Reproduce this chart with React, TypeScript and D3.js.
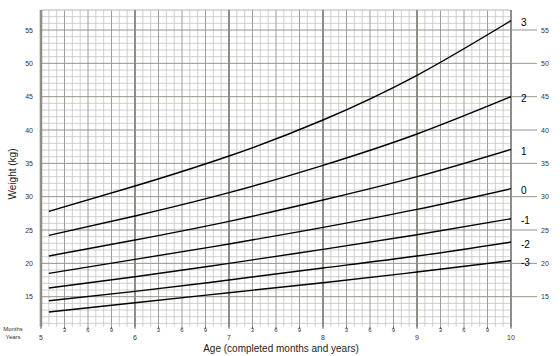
import React from "react";
import * as d3 from "d3";

const ageMonths = [61, 72, 84, 96, 108, 120];
const sdNeg3 = [12.7, 14.1, 15.6, 17.1, 18.7, 20.4];
const sdNeg2 = [14.4, 15.8, 17.5, 19.3, 21.1, 23.2];
const sdNeg1 = [16.3, 18.0, 20.0, 22.1, 24.3, 26.7];
const sd0 = [18.5, 20.6, 22.9, 25.4, 28.1, 31.2];
const sdPos1 = [21.1, 23.5, 26.3, 29.5, 33.0, 37.1];
const sdPos2 = [24.2, 27.1, 30.6, 34.7, 39.4, 45.0];
const sdPos3 = [27.8, 31.6, 36.1, 41.5, 48.2, 56.4];

const curveLabels = ["-3", "-2", "-1", "0", "1", "2", "3"];
const yearLabels = ["5", "6", "7", "8", "9", "10"];
const monthLabels = ["3", "6", "9"];
const weightTicks = [15, 20, 25, 30, 35, 40, 45, 50, 55];

const W = 560;
const H = 356;

export default function App() {
  const x = d3.scaleLinear().domain([60, 120]).range([41, 511]);
  const y = d3.scaleLinear().domain([10.5, 58]).range([326.7, 10]);
  const series = [sdNeg3, sdNeg2, sdNeg1, sd0, sdPos1, sdPos2, sdPos3];
  const line = d3
    .line<number>()
    .x((_, i) => x(ageMonths[i]))
    .y((d) => y(d))
    .curve(d3.curveNatural);

  const months = d3.range(60, 121);
  const kgs = d3.range(11, 59);
  const top = y(58);
  const bottom = y(10.5);
  const font = "'Liberation Sans', Arial, sans-serif";

  return (
    <svg
      width={W}
      height={H}
      style={{ position: "absolute", left: 0, top: 0, background: "#fff" }}
      fontFamily={font}
    >
      {/* minor horizontal grid */}
      {kgs
        .filter((k) => k % 5 !== 0)
        .map((k) => (
          <line key={"h" + k} x1={x(60)} x2={x(120)} y1={y(k)} y2={y(k)} stroke="#c4c4c4" strokeWidth={0.8} />
        ))}
      {/* minor vertical grid */}
      {months
        .filter((m) => m % 3 !== 0)
        .map((m) => (
          <line key={"v" + m} x1={x(m)} x2={x(m)} y1={top} y2={bottom} stroke="#c4c4c4" strokeWidth={0.8} />
        ))}
      {/* quarter vertical lines */}
      {months
        .filter((m) => m % 3 === 0 && m % 12 !== 0)
        .map((m) => (
          <line key={"q" + m} x1={x(m)} x2={x(m)} y1={top} y2={bottom} stroke="#9e9e98" strokeWidth={1} />
        ))}
      {/* major horizontal */}
      {weightTicks.map((k) => (
        <line key={"H" + k} x1={x(60)} x2={537} y1={y(k)} y2={y(k)} stroke="#94948c" strokeWidth={1} />
      ))}
      {/* top border */}
      <line x1={x(60)} x2={x(120)} y1={top} y2={top} stroke="#c4c4c4" strokeWidth={0.8} />
      {/* year lines */}
      {months
        .filter((m) => m % 12 === 0)
        .map((m) => (
          <line
            key={"y" + m}
            x1={x(m)}
            x2={x(m)}
            y1={top}
            y2={bottom}
            stroke="#8e8e86"
            strokeWidth={m === 60 ? 2.6 : 2}
          />
        ))}
      {/* bottom ticks */}
      {months
        .filter((m) => m % 3 === 0)
        .map((m) => (
          <line key={"t" + m} x1={x(m)} x2={x(m)} y1={bottom} y2={bottom + 2} stroke="#555" strokeWidth={1} />
        ))}

      {/* curves */}
      {series.map((s, i) => (
        <path key={"c" + i} d={line(s) || ""} fill="none" stroke="#000" strokeWidth={1.4} />
      ))}
      {series.map((s, i) => (
        <text
          key={"l" + i}
          x={521}
          y={y(s[s.length - 1]) + 2}
          fontSize={10}
          dominantBaseline="central"
          fill="#000"
        >
          {curveLabels[i]}
        </text>
      ))}

      {/* y tick labels */}
      {weightTicks.map((k) => (
        <g key={"yl" + k}>
          <text x={33} y={y(k)} fontSize={7} textAnchor="end" dominantBaseline="central" fill="#333">
            {k}
          </text>
          <text x={541} y={y(k)} fontSize={7} textAnchor="start" dominantBaseline="central" fill="#333">
            {k}
          </text>
        </g>
      ))}

      {/* month labels */}
      {d3.range(0, 5).map((yr) =>
        monthLabels.map((ml, j) => (
          <text
            key={"m" + yr + "-" + j}
            x={x(60 + yr * 12 + (j + 1) * 3)}
            y={bottom + 3}
            fontSize={6}
            textAnchor="middle"
            dominantBaseline="central"
            fill="#333"
          >
            {ml}
          </text>
        ))
      )}
      {yearLabels.map((yl, i) => (
        <text
          key={"yr" + i}
          x={x(60 + i * 12)}
          y={337}
          fontSize={7}
          textAnchor="middle"
          dominantBaseline="central"
          fill="#333"
        >
          {yl}
        </text>
      ))}
      <text x={13} y={328.5} fontSize={6} textAnchor="middle" dominantBaseline="central" fill="#333">
        Months
      </text>
      <text x={13} y={337} fontSize={6} textAnchor="middle" dominantBaseline="central" fill="#333">
        Years
      </text>

      <text x={281} y={348.5} fontSize={10} textAnchor="middle" dominantBaseline="central" fill="#222">
        Age (completed months and years)
      </text>
      <text
        transform={`translate(12,174) rotate(-90)`}
        fontSize={10}
        textAnchor="middle"
        dominantBaseline="central"
        fill="#222"
      >
        Weight (kg)
      </text>
    </svg>
  );
}
